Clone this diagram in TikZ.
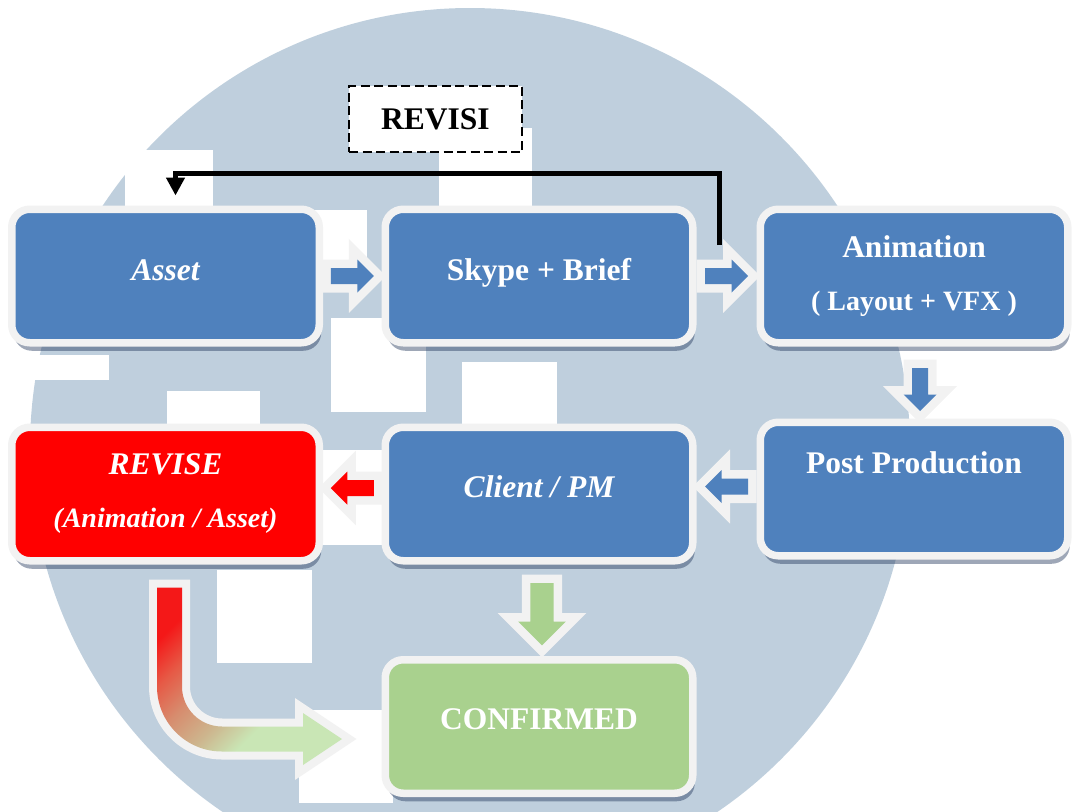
\documentclass[tikz,border=0pt]{standalone}
\usepackage{fontspec}
\setmainfont{Liberation Serif}
\usetikzlibrary{calc,arrows.meta,shadows}

\definecolor{boxblue}{RGB}{79,129,189}
\definecolor{arredge}{RGB}{242,242,242}
\definecolor{circblue}{RGB}{191,207,221}
\definecolor{okgreen}{RGB}{169,209,142}
\definecolor{shadowcol}{RGB}{40,60,95}
\definecolor{gradred}{RGB}{244,24,24}
\definecolor{gradorange}{RGB}{230,90,70}
\definecolor{gradsalmon}{RGB}{215,140,110}
\definecolor{gradtan}{RGB}{205,182,142}
\definecolor{gradgreen}{RGB}{201,230,181}

% red to green along the bent arrow
\pgfdeclareverticalshading{revgrad}{100bp}{color(0bp)=(gradgreen); color(38bp)=(gradgreen); color(47bp)=(gradtan); color(57bp)=(gradsalmon); color(66bp)=(gradorange); color(75bp)=(gradred); color(100bp)=(gradred)}

\tikzset{
  flowbox/.style={draw=arredge, line width=7.5pt, rounded corners=18pt, fill=boxblue,
    minimum width=307.5pt, minimum height=133.5pt, text=white, align=center,
    font={\fontsize{31.5}{53}\selectfont\bfseries},
    drop shadow={shadow xshift=2pt, shadow yshift=-8pt, fill=shadowcol, opacity=0.45}},
  oneline/.style={text height=22pt, text depth=#1},
  revbox/.style={draw=black, fill=white, line width=2.2pt, dash pattern=on 9pt off 4.5pt,
    minimum width=173pt, minimum height=66pt, font={\fontsize{31.5}{38}\selectfont\bfseries}},
  revline/.style={line width=5pt, -{Triangle[length=18pt, width=18pt]}},
  blockarr/.pic={
    \path[preaction={draw=arredge, line width=17pt, line join=miter}, pic actions]
      (-21.5,-8) -- (5,-8) -- (5,-16.5) -- (21.5,0) -- (5,16.5) -- (5,8) -- (-21.5,8) -- cycle;
  }
}

\begin{document}
\begin{tikzpicture}[x=1pt, y=-1pt]
  \useasboundingbox (0,0) rectangle (1073,811);

  % logo behind
  \fill[circblue] (470,448) circle[radius=440];
  \fill[white] (125,150) rectangle (213,212);
  \fill[white] (439,128) rectangle (532,212);
  \fill[white] (272,210) rectangle (367,262);
  \fill[white] (331,318) rectangle (426,412);
  \fill[white] (462,362) rectangle (557,432);
  \fill[white] (35,355) rectangle (109,380);
  \fill[white] (167,391) rectangle (260,436);
  \fill[white] (322,450) rectangle (385,545);
  \fill[white] (217,570) rectangle (312,663);
  \fill[white] (299,710) rectangle (393,803);

  % boxes
  \node[flowbox, oneline=14pt] (asset) at (165.5,276) {\itshape Asset};
  \node[flowbox, oneline=14pt] (skype) at (539,276) {Skype + Brief};
  \node[flowbox] (anim) at (914,276) {Animation\\{\fontsize{28}{53}\selectfont ( Layout + VFX )}};
  \node[flowbox, oneline=54pt] (post) at (914,489) {Post Production};
  \node[flowbox, oneline=16pt] (client) at (539,494) {\itshape Client / PM};
  \node[flowbox, fill=red] (revise) at (165.5,494) {\itshape REVISE\\{\fontsize{28}{53}\selectfont\itshape (Animation / Asset)}};
  \node[flowbox, fill=okgreen, oneline=17pt] (conf) at (539,726.5) {CONFIRMED};

  % block arrows
  \coordinate (a1) at ($(asset.east)!0.5!(skype.west)$);
  \coordinate (a2) at ($(skype.east)!0.5!(anim.west)$);
  \coordinate (a3) at ($(post.north)+(6,-29)$);
  \coordinate (a4) at ($(client.east)!0.5!(post.west)+(0,-5)$);
  \coordinate (a5) at ($(revise.east)!0.5!(client.west)+(0,-6)$);
  \coordinate (a6) at ($(client.south)!0.5!(conf.north)+(3,4)$);
  \pic[fill=boxblue] at (a1) {blockarr};
  \pic[fill=boxblue] at (a2) {blockarr};
  \pic[fill=boxblue, rotate=-90] at (a3) {blockarr};
  \pic[fill=boxblue, rotate=180] at (a4) {blockarr};
  \pic[fill=red, rotate=180] at (a5) {blockarr};
  \pic[fill=okgreen, rotate=-90, scale=1.45] at (a6) {blockarr};

  % bent arrow from revise to confirmed
  \coordinate (cs) at ($(revise.south)+(4,23)$);
  \draw[arredge, line width=16pt, line join=miter] ($(cs)+(-12.5,0)$) -- ++(0,99)
    arc[start angle=180, end angle=90, radius=65] -- ++(81,0) -- ++(0,13.5) -- ++(39,-26)
    -- ++(-39,-26) -- ++(0,13.5) -- ++(-81,0) arc[start angle=90, end angle=180, radius=40]
    -- ++(0,-99) -- cycle;
  \shade[shading=revgrad, shading angle=45] ($(cs)+(-12.5,0)$) -- ++(0,99)
    arc[start angle=180, end angle=90, radius=65] -- ++(81,0) -- ++(0,13.5) -- ++(39,-26)
    -- ++(-39,-26) -- ++(0,13.5) -- ++(-81,0) arc[start angle=90, end angle=180, radius=40]
    -- ++(0,-99) -- cycle;

  % revision loop
  \node[revbox] (revisi) at (435.5,119) {REVISI};
  \coordinate (rv) at ($(a2)+(-7,-31)$);
  \draw[revline] (rv) -- ++(0,-72) -| ($(asset.north)+(10,-10)$);
\end{tikzpicture}
\end{document}
